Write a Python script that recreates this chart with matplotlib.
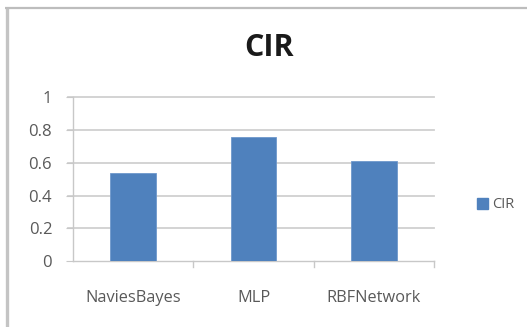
import matplotlib
matplotlib.use("Agg")
import matplotlib.pyplot as plt
from matplotlib.lines import Line2D
from matplotlib.patches import Patch

categories = ["NaviesBayes", "MLP", "RBFNetwork"]
cir_values = [0.54, 0.76, 0.61]
series_name = "CIR"
y_ticks = [0, 0.2, 0.4, 0.6, 0.8, 1]
y_tick_labels = ["0", "0.2", "0.4", "0.6", "0.8", "1"]

W, H = 527, 327
fig = plt.figure(figsize=(W / 100, H / 100), dpi=100)
fig.patch.set_facecolor("white")

# chart frame (left and top edges)
fig.add_artist(Line2D([6.5 / W, 6.5 / W], [0, 1 - 7 / H], transform=fig.transFigure,
                      color="#c4c4c4", lw=2.4, solid_capstyle="butt"))
fig.add_artist(Line2D([5 / W, 1], [1 - 7.5 / H, 1 - 7.5 / H], transform=fig.transFigure,
                      color="#bdbdbd", lw=1.6, solid_capstyle="butt"))

# plot area in pixels: x 73..434, y 97..261
left, right, top, bottom = 73, 434, 97.3, 261
ax = fig.add_axes([left / W, 1 - bottom / H, (right - left) / W, (bottom - top) / H])

x = list(range(len(categories)))
ax.bar(x, cir_values, width=0.38, color="#4f81bd", edgecolor="#6f98cc", linewidth=0.6,
       zorder=3)
ax.set_xlim(-0.5, len(categories) - 0.5)
ax.set_ylim(0, 1)

ax.set_yticks(y_ticks)
ax.set_yticklabels(y_tick_labels)
ax.set_xticks(x)
ax.set_xticklabels(categories)

for yv in y_ticks[1:]:
    ax.plot([-0.54, len(categories) - 0.5], [yv, yv], color="#d0d0d0", lw=1.3,
            zorder=1, clip_on=False)

for s in ["top", "right"]:
    ax.spines[s].set_visible(False)
ax.spines["left"].set_color("#c8c8c8")
ax.spines["bottom"].set_color("#c8c8c8")
ax.spines["left"].set_linewidth(1.0)
ax.spines["bottom"].set_linewidth(1.0)

# y ticks extend left; x ticks sit at category boundaries
ax.tick_params(axis="y", length=5, color="#c8c8c8", labelsize=12, labelcolor="#595959",
               pad=10)
ax.tick_params(axis="x", length=0, labelsize=11.8, labelcolor="#595959", pad=21)
for b in [0.5, 1.5, 2.5]:
    ax.plot([b, b], [0, -0.035], color="#c8c8c8", lw=1.0, clip_on=False, zorder=2)

for lab in ax.get_xticklabels() + ax.get_yticklabels():
    lab.set_fontfamily(["Open Sans", "DejaVu Sans"])

fig.text(269 / W, 1 - 48 / H, "CIR", ha="center", va="center", fontsize=22,
         fontweight="bold", family=["Open Sans", "DejaVu Sans"], color="#1a1a1a")

handle = Patch(facecolor="#4f81bd", edgecolor="#4f81bd")
leg = fig.legend([handle], [series_name], loc="center left",
                 bbox_to_anchor=(464 / W, 1 - 205 / H), frameon=False,
                 handlelength=0.75, handleheight=0.75, handletextpad=0.3,
                 prop={"family": ["Open Sans", "DejaVu Sans"], "size": 10.5})
for t in leg.get_texts():
    t.set_color("#595959")

fig.savefig("out.png", dpi=100)
